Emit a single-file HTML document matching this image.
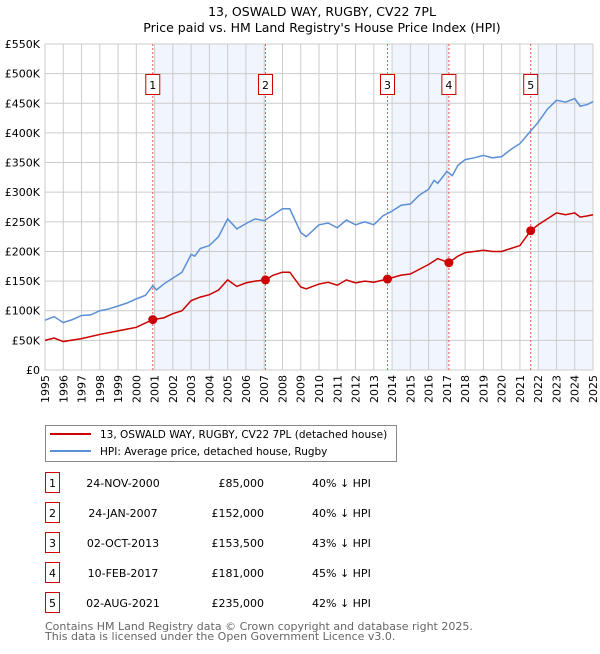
<!DOCTYPE html>
<html><head><meta charset="utf-8"><style>
body{margin:0;background:#fff;font-family:"DejaVu Sans","Liberation Sans",sans-serif;}
svg text{font-family:"DejaVu Sans","Liberation Sans",sans-serif;}
</style></head><body>
<svg id="chart" width="600" height="650" xmlns="http://www.w3.org/2000/svg">
<text x="322" y="16" text-anchor="middle" font-size="12.5">13, OSWALD WAY, RUGBY, CV22 7PL</text>
<text x="322" y="32" text-anchor="middle" font-size="12.5">Price paid vs. HM Land Registry's House Price Index (HPI)</text>
<g id="plot"></g>
<g>
<rect x="45.5" y="425.5" width="351" height="36" fill="#fff" stroke="#888"/>
<line x1="50" y1="434" x2="91" y2="434" stroke="#cc0000" stroke-width="2"/>
<text x="100" y="438" font-size="10.5">13, OSWALD WAY, RUGBY, CV22 7PL (detached house)</text>
<line x1="50" y1="451" x2="91" y2="451" stroke="#5b8fd6" stroke-width="2"/>
<text x="100" y="455" font-size="10.5">HPI: Average price, detached house, Rugby</text>
</g>
<g id="table"></g>
<text x="45" y="630" font-size="11" fill="#666">Contains HM Land Registry data © Crown copyright and database right 2025.</text>
<text x="45" y="640" font-size="11" fill="#666">This data is licensed under the Open Government Licence v3.0.</text>
</svg>
<script>
const hpiT=[1995,1995.5,1996,1996.5,1997,1997.5,1998,1998.5,1999,1999.5,2000,2000.5,2000.9,2001.1,2001.5,2002,2002.5,2003,2003.2,2003.5,2004,2004.5,2005,2005.5,2006,2006.5,2007,2007.5,2008,2008.4,2009,2009.3,2010,2010.5,2011,2011.5,2012,2012.5,2013,2013.5,2014,2014.5,2015,2015.5,2016,2016.3,2016.5,2017,2017.3,2017.6,2018,2018.5,2019,2019.5,2020,2020.5,2021,2021.5,2022,2022.5,2023,2023.5,2024,2024.3,2024.7,2025];
const hpiV=[84,90,80,85,92,93,100,103,108,113,120,126,142,135,145,155,165,195,192,205,210,225,255,238,247,255,252,262,272,272,232,225,245,248,240,253,245,250,245,260,268,278,280,295,305,320,315,335,328,345,355,358,362,358,360,372,382,400,418,440,455,452,458,445,448,453];
const pT=[1995,1995.5,1996,1997,1998,1999,2000,2000.9,2001.5,2002,2002.5,2003,2003.5,2004,2004.5,2005,2005.5,2006,2006.5,2007.07,2007.5,2008,2008.4,2009,2009.3,2010,2010.5,2011,2011.5,2012,2012.5,2013,2013.75,2014.5,2015,2015.5,2016,2016.5,2017.11,2017.6,2018,2018.5,2019,2019.5,2020,2020.5,2021,2021.59,2022,2022.5,2023,2023.5,2024,2024.3,2024.7,2025];
const pV=[50,54,48,53,60,66,72,85,88,95,100,117,123,127,135,152,141,147,150,152,160,165,165,140,137,145,148,143,152,147,150,148,153.5,160,162,170,178,188,181,192,198,200,202,200,200,205,210,235,245,255,265,262,265,258,260,262];
const saleT=[2000.9,2007.07,2013.75,2017.11,2021.59];
const saleV=[85,152,153.5,181,235];
const saleDates=["24-NOV-2000","24-JAN-2007","02-OCT-2013","10-FEB-2017","02-AUG-2021"];
const salePrices=["£85,000","£152,000","£153,500","£181,000","£235,000"];
const salePct=["40% ↓ HPI","40% ↓ HPI","43% ↓ HPI","45% ↓ HPI","42% ↓ HPI"];
const shadeFrom=[2001,2014,2022];
const shadeTo=[2007.07,2017.11,2025];
const yTicks=[0,50,100,150,200,250,300,350,400,450,500,550];
const yLabels=["£0","£50K","£100K","£150K","£200K","£250K","£300K","£350K","£400K","£450K","£500K","£550K"];
const years=[];for(let y=1995;y<=2025;y++)years.push(y);

const X0=45,X1=593,Y0=370,Y1=44;
const sx=t=>X0+(t-1995)/30*(X1-X0);
const sy=v=>Y0-v/550*(Y0-Y1);
const NS="http://www.w3.org/2000/svg";
const g=document.getElementById('plot');
function mk(tag,attrs,parent){const e=document.createElementNS(NS,tag);for(const k in attrs)e.setAttribute(k,attrs[k]);(parent||g).appendChild(e);return e;}

shadeFrom.forEach((f,i)=>{
 const r=mk('rect',{x:sx(f),y:Y1,width:sx(shadeTo[i])-sx(f),height:Y0-Y1,fill:'#eef3fc',opacity:0.8});
 
 
});
years.forEach(y=>{
 const l=mk('line',{x1:sx(y),x2:sx(y),y1:Y1,y2:Y0,stroke:'#cccccc','stroke-width':1});
 
 
 const t=mk('text',{x:0,y:0,'font-size':11,'text-anchor':'end',transform:`translate(${sx(y)+4},${Y0+5}) rotate(-90)`});
 t.textContent=y;
 
 
});
yTicks.forEach((v,i)=>{
 const l=mk('line',{x1:X0,x2:X1,y1:sy(v),y2:sy(v),stroke:'#cccccc','stroke-width':1});
 
 
 const t=mk('text',{x:40,y:sy(v)+4,'font-size':11,'text-anchor':'end'});
 t.textContent=yLabels[i];
 
 
});
saleT.forEach((t,i)=>{
 const l=mk('line',{x1:sx(t),x2:sx(t),y1:Y1,y2:Y0,stroke:'#ee5555','stroke-width':1,'stroke-dasharray':'2,2'});
 
 
 const b=mk('rect',{x:sx(t)-7,y:74.5,width:14,height:20,fill:'#fff',stroke:'#cc0000'});
 
 
 const tx=mk('text',{x:sx(t),y:89,'font-size':11,'text-anchor':'middle'});
 tx.textContent=i+1;
 
 
});
const hp=mk('polyline',{points:hpiT.map((t,i)=>sx(t)+','+sy(hpiV[i])).join(' '),fill:'none',stroke:'#5b8fd6','stroke-width':1.5});


const pp=mk('polyline',{points:pT.map((t,i)=>sx(t)+','+sy(pV[i])).join(' '),fill:'none',stroke:'#cc0000','stroke-width':1.5});


saleT.forEach((t,i)=>{
 const c=mk('circle',{cx:sx(t),cy:sy(saleV[i]),r:4.5,fill:'#cc0000'});
 
 
});
const tb=document.getElementById('table');
saleDates.forEach((d,i)=>{
 const y=483+i*30;
 const b=mk('rect',{x:45.5,y:y-10.5,width:14,height:20,fill:'#fff',stroke:'#cc0000'},tb);
 
 
 const n=mk('text',{x:52.5,y:y+4,'font-size':11,'text-anchor':'middle'},tb);n.textContent=i+1;
 
 
 const dt=mk('text',{x:123,y:y+4,'font-size':11,'text-anchor':'middle'},tb);dt.textContent=d;
 
 
 const p=mk('text',{x:264,y:y+4,'font-size':11,'text-anchor':'end'},tb);p.textContent=salePrices[i];
 
 
 const h=mk('text',{x:312,y:y+4,'font-size':11},tb);h.textContent=salePct[i];
 
 
});
</script>
</body></html>
